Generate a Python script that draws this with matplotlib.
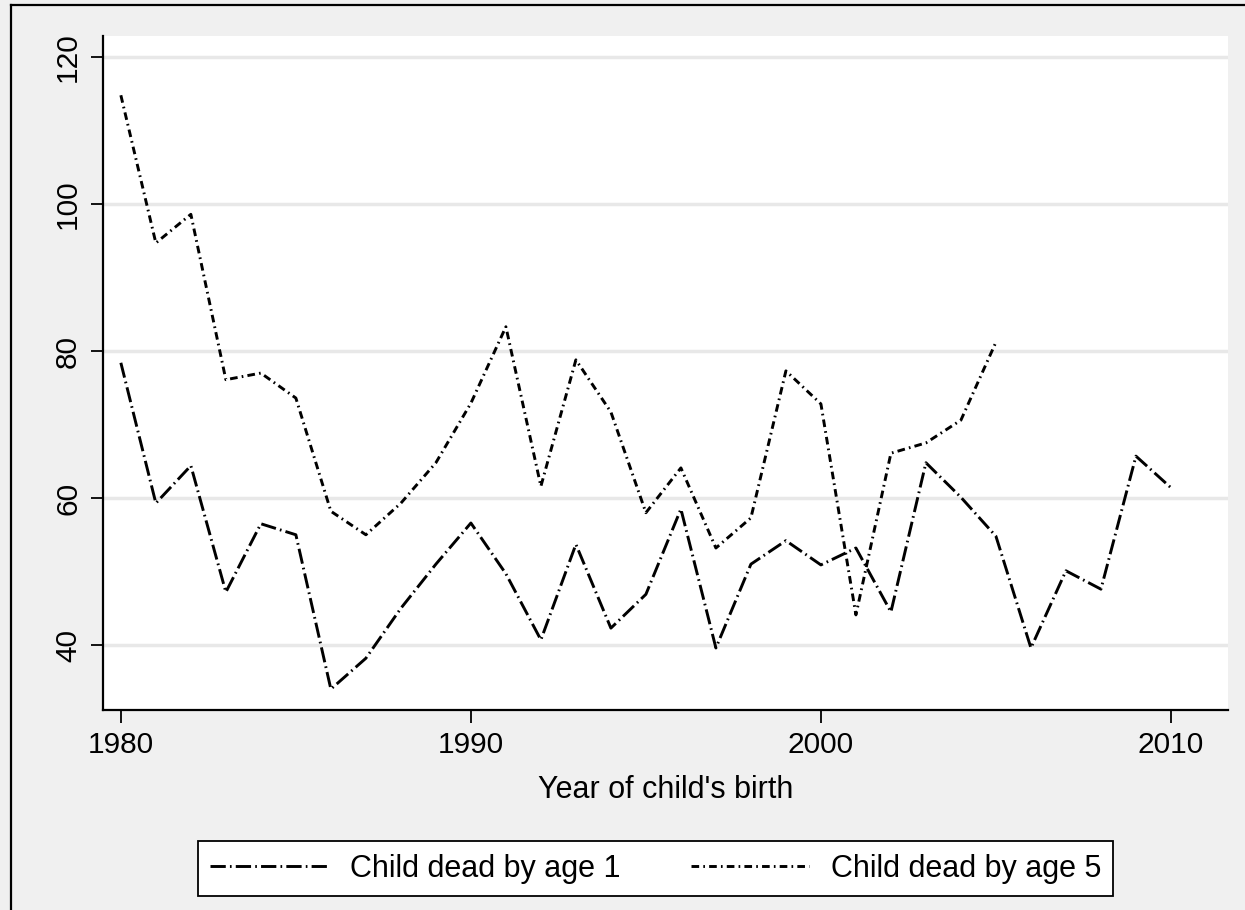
import matplotlib
matplotlib.use("Agg")
import matplotlib.pyplot as plt
from matplotlib.lines import Line2D

plt.rcParams['font.family'] = ['Liberation Sans', 'DejaVu Sans']
plt.rcParams['lines.scale_dashes'] = False

years_age1 = list(range(1980, 2011))
dead_age1 = [78.4, 59.3, 64.4, 47.2, 56.5, 55.0, 34.0, 38.2, 45.0, 51.0,
             56.6, 49.7, 40.7, 53.7, 42.3, 46.9, 58.5, 39.6, 51.0, 54.2,
             50.9, 53.2, 44.5, 64.8, 60.1, 54.8, 39.6, 50.1, 47.6, 65.7,
             61.4]

years_age5 = list(range(1980, 2006))
dead_age5 = [114.8, 94.7, 98.6, 76.1, 77.0, 73.6, 58.2, 55.0, 59.3, 64.8,
             72.9, 83.3, 61.6, 78.8, 71.7, 58.0, 64.1, 53.2, 57.3, 77.3,
             72.8, 44.1, 66.1, 67.5, 70.6, 81.2]

x_ticks = [1980, 1990, 2000, 2010]
y_ticks = [40, 60, 80, 100, 120]

bg = '#F0F0F0'
W, H = 1245, 910
fig = plt.figure(figsize=(W / 100, H / 100), dpi=100, facecolor=bg)
ax = fig.add_axes([103 / W, 1 - 710 / H, (1228 - 103) / W, (710 - 36) / H])
ax.set_facecolor('white')

ax.plot(years_age1, dead_age1, color='black', lw=2.1,
        dashes=(11, 3, 1.2, 3), label='Child dead by age 1')
ax.plot(years_age5, dead_age5, color='black', lw=2.1,
        dashes=(5.5, 3, 1.2, 3), label='Child dead by age 5')

ax.set_xlim(1979.49, 2011.63)
ax.set_ylim(31.16, 122.86)
ax.set_xticks(x_ticks)
ax.set_yticks(y_ticks)
ax.tick_params(axis='both', labelsize=21.5, length=9, width=1.3,
               direction='out', pad=6)
for lab in ax.get_yticklabels():
    lab.set_rotation(90)
    lab.set_va('center')
ax.yaxis.grid(True, color='#E8E8E8', lw=2.5)
ax.set_axisbelow(True)
for s in ['top', 'right']:
    ax.spines[s].set_visible(False)
for s in ['left', 'bottom']:
    ax.spines[s].set_linewidth(1.6)

ax.set_xlabel("Year of child's birth", fontsize=22, labelpad=12)

leg = fig.legend(loc='center', bbox_to_anchor=(655.5 / W, 1 - 868.5 / H), ncol=2,
                 fontsize=22, frameon=True, fancybox=False, handlelength=3.86,
                 handletextpad=0.72, columnspacing=2.3, borderpad=0.4,
                 edgecolor='black', framealpha=1)
leg.get_frame().set_linewidth(1.3)

# window border (top and left edges only)
fig.add_artist(Line2D([10.5 / W, 1], [1 - 4.5 / H, 1 - 4.5 / H],
                      transform=fig.transFigure, color='black', lw=1.6))
fig.add_artist(Line2D([10.5 / W, 10.5 / W], [0, 1 - 4.5 / H],
                      transform=fig.transFigure, color='black', lw=1.6))

fig.savefig('out.png', dpi=100, facecolor=bg)
